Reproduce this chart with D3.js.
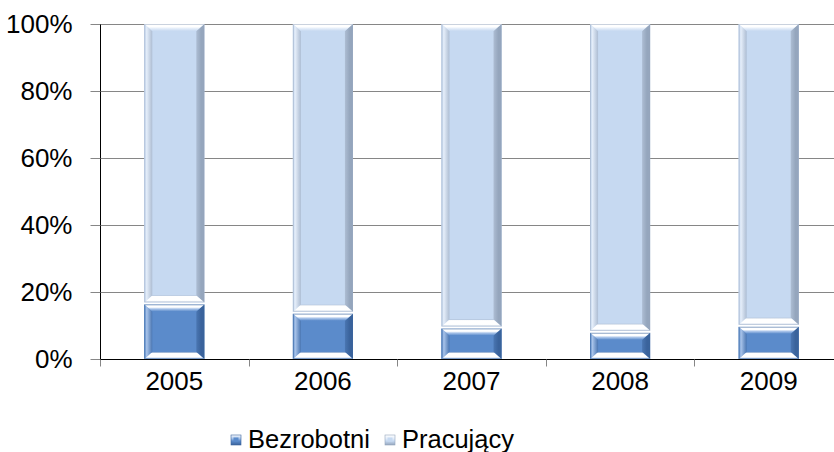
<!DOCTYPE html>
<html>
<head>
<meta charset="utf-8">
<script src="https://cdn.jsdelivr.net/npm/d3@7"></script>
<style>
  body { margin: 0; background: #fff; }
  svg { font-family: "Liberation Sans", Arial, sans-serif; }
</style>
</head>
<body>
<svg id="chart" width="834" height="452"></svg>
<script>
// values
var years = ["2005", "2006", "2007", "2008", "2009"];
var bezrobotni = [16.6, 13.8, 9.4, 8.1, 9.9];
var pracujacy = [83.4, 86.2, 90.6, 91.9, 90.1];
var yTicks = [0, 20, 40, 60, 80, 100];
var seriesNames = ["Bezrobotni", "Pracujący"];

(function () {
var svg = d3.select("#chart");

var plotLeft = 100, plotTop = 24, plotBottom = 359, plotRight = 843;
var fontSize = 26;

var x = d3.scaleBand()
    .domain(years)
    .range([plotLeft, plotRight])
    .paddingInner(0.596)
    .paddingOuter(0.298);

var y = d3.scaleLinear()
    .domain([0, 100])
    .range([plotBottom, plotTop]);

// colours for each series
var palette = [
  { face: "#5b8bcb", light: "#a8c3e9", dark: "#3a639c", side: "#4a76b2", hi: "#ffffff" },
  { face: "#c6d9f1", light: "#e4edf9", dark: "#95a6bd", side: "#adbdd3", hi: "#ffffff" }
];

var defs = svg.append("defs");
palette.forEach(function (p, i) {
  function grad(id, x1, y1, x2, y2, stops) {
    var g = defs.append("linearGradient").attr("id", id)
      .attr("x1", x1).attr("y1", y1).attr("x2", x2).attr("y2", y2);
    stops.forEach(function (s) {
      g.append("stop").attr("offset", s[0]).attr("stop-color", s[1]);
    });
  }
  grad("top" + i, 0, 0, 0, 1, [[0, p.hi], [0.4, p.hi], [0.65, p.light], [1, p.face]]);
  grad("bot" + i, 0, 0, 0, 1, [[0, p.side], [0.15, p.hi], [0.7, p.hi], [1, p.light]]);
  grad("lft" + i, 0, 0, 1, 0, [[0, p.face], [0.3, p.light], [1, p.side]]);
  grad("rgt" + i, 0, 0, 1, 0, [[0, p.side], [0.6, p.dark], [1, p.dark]]);
  grad("leg" + i, 0, 0, 0, 1, [[0, p.hi], [0.35, p.light], [0.6, p.face], [1, p.dark]]);
});

// gridlines
svg.append("g").selectAll("line")
  .data(yTicks)
  .enter().append("line")
  .attr("x1", plotLeft).attr("x2", plotRight)
  .attr("y1", function (d) { return Math.round(y(d)) + 0.5; })
  .attr("y2", function (d) { return Math.round(y(d)) + 0.5; })
  .attr("stroke", "#868686")
  .attr("stroke-width", 1);

// stacked data
var segs = [];
years.forEach(function (yr, i) {
  segs.push({ year: yr, s: 0, y0: 0, y1: bezrobotni[i] });
  segs.push({ year: yr, s: 1, y0: bezrobotni[i], y1: bezrobotni[i] + pracujacy[i] });
});

function bevel(g, d) {
  var x0 = x(d.year), w = x.bandwidth();
  var yt = y(d.y1), yb = y(d.y0);
  if (d.s === 0) yt += 1; else yb -= 1;
  var h = yb - yt;
  var bx = 8, by = Math.min(7, h / 3);
  var node = d3.select(g);
  node.append("rect")
    .attr("x", x0).attr("y", yt).attr("width", w).attr("height", h)
    .attr("fill", palette[d.s].face);
  var pts = {
    top: [[x0, yt], [x0 + w, yt], [x0 + w - bx, yt + by], [x0 + bx, yt + by]],
    bot: [[x0 + bx, yb - by], [x0 + w - bx, yb - by], [x0 + w, yb], [x0, yb]],
    lft: [[x0, yt], [x0 + bx, yt + by], [x0 + bx, yb - by], [x0, yb]],
    rgt: [[x0 + w, yt], [x0 + w, yb], [x0 + w - bx, yb - by], [x0 + w - bx, yt + by]]
  };
  ["lft", "rgt", "top", "bot"].forEach(function (k) {
    node.append("polygon")
      .attr("points", pts[k].map(function (p) { return p.join(","); }).join(" "))
      .attr("fill", "url(#" + k + d.s + ")");
  });
  node.append("rect")
    .attr("x", x0 + 0.5).attr("y", yt + 0.5).attr("width", w - 1).attr("height", h - 1)
    .attr("fill", "none")
    .attr("stroke", palette[d.s].dark)
    .attr("stroke-opacity", 0.5);
}

svg.append("g").selectAll("g")
  .data(segs)
  .enter().append("g")
  .each(function (d) { bevel(this, d); });

// y axis
var yAxis = svg.append("g")
  .attr("transform", "translate(" + (plotLeft + 0.5) + ",0)")
  .call(d3.axisLeft(y).tickValues(yTicks).tickSize(10).tickPadding(18)
    .tickFormat(function (d) { return d + "%"; }));
yAxis.select(".domain").attr("stroke", "#000").attr("d", "M0," + plotTop + "V" + (plotBottom + 7));
yAxis.selectAll(".tick line").attr("stroke", "#868686");
yAxis.selectAll("text").attr("font-size", fontSize).attr("fill", "#000")
  .attr("font-family", "Liberation Sans, Arial, sans-serif");

// x axis
var xAxis = svg.append("g")
  .attr("transform", "translate(0," + (plotBottom + 0.5) + ")")
  .call(d3.axisBottom(x).tickSize(0).tickPadding(12));
xAxis.select(".domain").attr("stroke", "#000").attr("d", "M" + plotLeft + ",0H" + plotRight);
xAxis.selectAll("text").attr("font-size", fontSize).attr("fill", "#000")
  .attr("font-family", "Liberation Sans, Arial, sans-serif");

var bounds = d3.range(years.length + 1).map(function (i) { return plotLeft + i * x.step(); });
xAxis.append("g").selectAll("line")
  .data(bounds)
  .enter().append("line")
  .attr("x1", function (d) { return Math.round(d) + 0.5; })
  .attr("x2", function (d) { return Math.round(d) + 0.5; })
  .attr("y1", 0).attr("y2", 7)
  .attr("stroke", "#868686");

// legend
var legend = svg.append("g").attr("transform", "translate(0,439)");
var legX = [231, 385];
seriesNames.forEach(function (name, i) {
  var g = legend.append("g").attr("transform", "translate(" + legX[i] + ",0)");
  g.append("rect").attr("x", 0).attr("y", -4).attr("width", 10).attr("height", 10)
    .attr("fill", "url(#leg" + i + ")").attr("stroke", palette[i].dark).attr("stroke-width", 0.6);
  g.append("rect").attr("x", 2.5).attr("y", -1.5).attr("width", 5).attr("height", 4)
    .attr("fill", palette[i].face);
  g.append("text").attr("x", 17).attr("y", 0).attr("dy", "0.35em")
    .attr("font-size", 25.5).text(name);
});
})();
</script>
</body>
</html>
